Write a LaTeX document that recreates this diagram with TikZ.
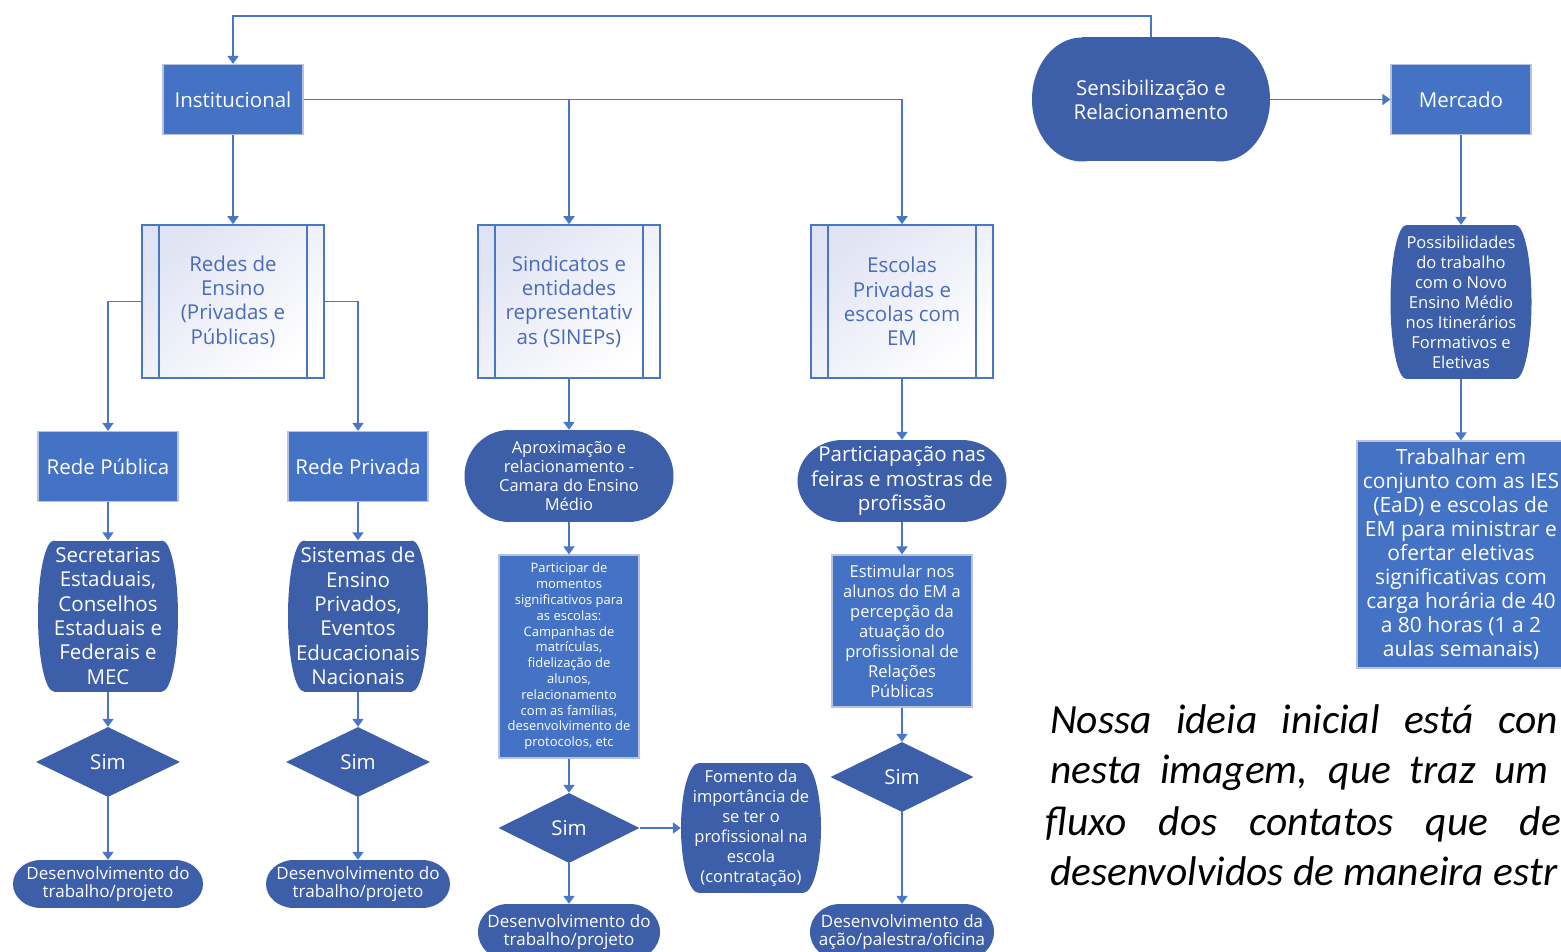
\documentclass[tikz,border=0pt]{standalone}
\usepackage{fontspec}
\setmainfont{Open Sans}
\newfontfamily\parafont{Carlito}
\usetikzlibrary{shapes.geometric,arrows.meta}
\definecolor{rectblue}{HTML}{4472C4}
\definecolor{darkblue}{HTML}{3D5EA8}
\definecolor{lineblue}{HTML}{4A76C8}
\definecolor{rectedge}{HTML}{B8C2DC}
\definecolor{lav}{HTML}{E0E3F3}
\definecolor{pptext}{HTML}{4A6BB8}
\newcommand{\fs}[2]{\fontsize{#1}{#2}\selectfont}
\newcommand{\termshape}[5]{%
  \fill[darkblue] ({#1-#3/2+#5},{#2-#4/2}) rectangle ({#1+#3/2-#5},{#2+#4/2});
  \fill[darkblue] ({#1-#3/2+#5},#2) ellipse[x radius=#5, y radius={#4/2}];
  \fill[darkblue] ({#1+#3/2-#5},#2) ellipse[x radius=#5, y radius={#4/2}];
}
\tikzset{
  txt/.style={align=center, inner sep=0pt, text=white},
  rectbox/.style={txt, rectangle, fill=rectblue, draw=rectedge, line width=1.2pt},
  termnode/.style={txt, rectangle},
  ppbox/.style={txt, rectangle, text=pptext, draw=lineblue, line width=1.6pt,
    top color=lav, bottom color=white, shading angle=40,
    path picture={\draw[lineblue,line width=1.6pt]
      ([xshift=17pt]path picture bounding box.north west) -- ([xshift=17pt]path picture bounding box.south west)
      ([xshift=-17pt]path picture bounding box.north east) -- ([xshift=-17pt]path picture bounding box.south east);}},
  decision/.style={txt, diamond, fill=darkblue},
  conn/.style={draw=lineblue, line width=1.8pt},
  arr/.style={conn, -{Triangle[width=11pt,length=8pt]}},
  big/.style={font=\fs{20.5}{24.3}},
  mid/.style={font=\fs{16.5}{20}},
  small/.style={font=\fs{17}{18.5}},
  para/.style={inner sep=0pt, anchor=base west, font=\parafont\itshape\fs{41.5}{51}},
}
\begin{document}
\begin{tikzpicture}[x=1pt,y=-1pt]
\useasboundingbox (0,0) rectangle (1561,952);
\clip (0,0) rectangle (1561,952);
\fill[white] (0,0) rectangle (1561,952);

% terminator shapes
\termshape{1151}{99.5}{238}{124}{50}
\termshape{108}{616}{140}{151}{16}
\termshape{358}{616}{140}{151}{16}
\termshape{108}{884}{190}{48}{28}
\termshape{358}{884}{184}{48}{28}
\termshape{569}{476}{209}{92}{45}
\termshape{751}{828}{140}{130}{18}
\termshape{569}{932}{182}{56}{30}
\termshape{902}{481}{209}{82}{45}
\termshape{902}{932}{184}{56}{30}
\termshape{1461}{302}{141}{154}{16}

% nodes
\node[rectbox, big, minimum width=140pt, minimum height=70pt] (inst) at (233,99.5) {Institucional};
\node[rectbox, big, minimum width=140pt, minimum height=70pt] (merc) at (1461,99.5) {Mercado};
\node[termnode, big, minimum width=238pt, minimum height=124pt] (sens) at (1151,99.5) {Sensibilização e\\Relacionamento};

\node[ppbox, big, minimum width=182pt, minimum height=153pt] (redes) at (233,301.5) {Redes de\\Ensino\\(Privadas e\\Públicas)};
\node[ppbox, big, minimum width=182pt, minimum height=153pt] (sind) at (569,301.5) {Sindicatos e\\entidades\\representativ\\as (SINEPs)};
\node[ppbox, big, minimum width=182pt, minimum height=153pt] (esc) at (902,301.5) {Escolas\\Privadas e\\escolas com\\EM};

\node[rectbox, big, minimum width=140pt, minimum height=70pt] (pub) at (108,466.5) {Rede Pública};
\node[rectbox, big, minimum width=140pt, minimum height=70pt] (priv) at (358,466.5) {Rede Privada};

\node[termnode, big, minimum width=140pt, minimum height=151pt] (secr) at (108,616) {Secretarias\\Estaduais,\\Conselhos\\Estaduais e\\Federais e\\MEC};
\node[termnode, big, minimum width=140pt, minimum height=151pt] (sist) at (358,616) {Sistemas de\\Ensino\\Privados,\\Eventos\\Educacionais\\Nacionais};

\node[decision, big, minimum width=144pt, minimum height=70pt] (simA) at (108,762) {Sim};
\node[decision, big, minimum width=144pt, minimum height=70pt] (simB) at (358,762) {Sim};

\node[termnode, small, minimum width=190pt, minimum height=48pt] (devA) at (108,884) {Desenvolvimento do\\trabalho/projeto};
\node[termnode, small, minimum width=184pt, minimum height=48pt] (devB) at (358,884) {Desenvolvimento do\\trabalho/projeto};

\node[termnode, font=\fs{16.5}{19}, minimum width=209pt, minimum height=92pt] (aprox) at (569,476) {Aproximação e\\relacionamento -\\Camara do Ensino\\Médio};
\node[rectbox, font=\fs{13}{15.8}, minimum width=140pt, minimum height=203pt] (part) at (569,656.5) {Participar de\\momentos\\significativos para\\as escolas:\\Campanhas de\\matrículas,\\fidelização de\\alunos,\\relacionamento\\com as famílias,\\desenvolvimento de\\protocolos, etc};
\node[decision, big, minimum width=141pt, minimum height=70pt] (simC) at (569,828) {Sim};
\node[termnode, mid, minimum width=140pt, minimum height=130pt] (fom) at (751,828) {Fomento da\\importância de\\se ter o\\profissional na\\escola\\(contratação)};
\node[termnode, small, minimum width=182pt, minimum height=56pt] (devC) at (569,932) {Desenvolvimento do\\trabalho/projeto};

\node[termnode, big, minimum width=209pt, minimum height=82pt] (partic) at (902,481) {Particiapação nas\\feiras e mostras de\\profissão};
\node[rectbox, mid, minimum width=140pt, minimum height=152pt] (estim) at (902,631) {Estimular nos\\alunos do EM a\\percepção da\\atuação do\\profissional de\\Relações\\Públicas};
\node[decision, big, minimum width=143pt, minimum height=70pt] (simD) at (902,777) {Sim};
\node[termnode, small, minimum width=184pt, minimum height=56pt] (devD) at (902,932) {Desenvolvimento da\\ação/palestra/oficina};

\node[termnode, mid, minimum width=141pt, minimum height=154pt] (poss) at (1461,302) {Possibilidades\\do trabalho\\com o Novo\\Ensino Médio\\nos Itinerários\\Formativos e\\Eletivas};
\node[rectbox, font=\fs{21}{24}, minimum width=208pt, minimum height=227pt] (trab) at (1461,554.5) {Trabalhar em\\conjunto com as IES\\(EaD) e escolas de\\EM para ministrar e\\ofertar eletivas\\significativas com\\carga horária de 40\\a 80 horas (1 a 2\\aulas semanais)};

% connectors
\draw[arr] (sens.north) -- ++(0,-21) -| (inst.north);
\draw[arr] (sens.east) -- (merc.west);
\draw[conn] (inst.east) -- (esc.north |- inst.east);
\draw[arr] (esc.north |- inst.east) -- (esc.north);
\draw[arr] (sind.north |- inst.east) -- (sind.north);
\draw[arr] (inst.south) -- (redes.north);
\draw[arr] (redes.west) -| (pub.north);
\draw[arr] (redes.east) -| (priv.north);
\draw[arr] (pub.south) -- (secr.north);
\draw[arr] (secr.south) -- (simA.north);
\draw[arr] (simA.south) -- (devA.north);
\draw[arr] (priv.south) -- (sist.north);
\draw[arr] (sist.south) -- (simB.north);
\draw[arr] (simB.south) -- (devB.north);
\draw[arr] (sind.south) -- (aprox.north);
\draw[arr] (aprox.south) -- (part.north);
\draw[arr] (part.south) -- (simC.north);
\draw[arr] (simC.south) -- (devC.north);
\draw[arr] (simC.east) -- (fom.west);
\draw[arr] (esc.south) -- (partic.north);
\draw[arr] (partic.south) -- (estim.north);
\draw[arr] (estim.south) -- (simD.north);
\draw[arr] (simD.south) -- (devD.north);
\draw[arr] (merc.south) -- (poss.north);
\draw[arr] (poss.south) -- (trab.north);

% paragraph
\node[para] (p1) at (1050,733) {\makebox[508pt][s]{Nossa ideia inicial está con}};
\node[para] (p2) at (1050,783) {\makebox[498pt][s]{nesta imagem, que traz um}};
\node[para] (p3) at (1045,835) {\makebox[516pt][s]{fluxo dos contatos que de}};
\node[para] (p4) at (1050,885) {desenvolvidos de maneira estr};
\end{tikzpicture}
\end{document}
